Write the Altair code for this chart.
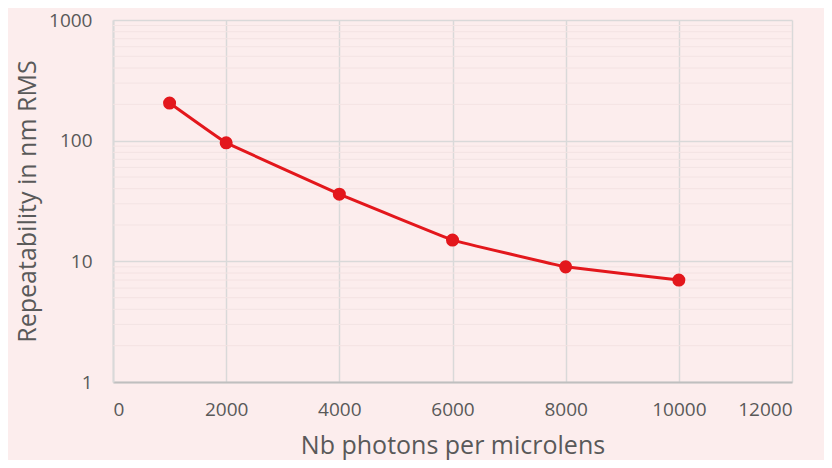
import altair as alt
import pandas as pd

photons = [1000, 2000, 4000, 6000, 8000, 10000]
repeatability = [205, 96, 36, 15, 9, 7]
x_ticks = [0, 2000, 4000, 6000, 8000, 10000, 12000]
y_ticks = [1, 10, 100, 1000]
minor = [m * d for d in [1, 10, 100] for m in range(2, 10)]

df = pd.DataFrame({"x": photons, "y": repeatability})
dfm = pd.DataFrame({"y": minor})

FONT = "Open Sans"
RED = "#E3171C"

xs = alt.Scale(domain=[0, 12000], nice=False)
ys = alt.Scale(type="log", domain=[1, 1000], nice=False)

minor_grid = alt.Chart(dfm).mark_rule(color="#F3E3E3", strokeWidth=1).encode(
    y=alt.Y("y:Q", scale=ys)
)

base = alt.Chart(df).encode(
    x=alt.X("x:Q", scale=xs,
            axis=alt.Axis(values=x_ticks, title="Nb photons per microlens", format="d",
                          grid=True, gridColor="#D9D9D9", domainColor="#BFBFBF",
                          ticks=False, labelPadding=18, titlePadding=14)),
    y=alt.Y("y:Q", scale=ys,
            axis=alt.Axis(values=y_ticks, title="Repeatability in nm RMS", format="d",
                          grid=True, gridColor="#D9D9D9", domainColor="#D9D9D9",
                          ticks=False, labelPadding=21, titlePadding=8)),
)

line = base.mark_line(color=RED, strokeWidth=3, interpolate="cardinal", tension=0.85)
pts = base.mark_circle(color=RED, size=170, opacity=1)

chart = alt.layer(minor_grid, line, pts).properties(
    width=679, height=362,
    autosize=alt.AutoSizeParams(type="none"),
    padding={"left": 105, "top": 12, "right": 32, "bottom": 78},
    background="#FCEDED",
).configure_view(stroke=None).configure_axis(
    labelFont=FONT, titleFont=FONT, labelFontSize=19, titleFontSize=25,
    labelColor="#595959", titleColor="#595959", titleFontWeight="normal",
    gridWidth=1.5, domainWidth=2,
)

chart.save("out.html", embed_options={"renderer": "svg", "actions": False})
